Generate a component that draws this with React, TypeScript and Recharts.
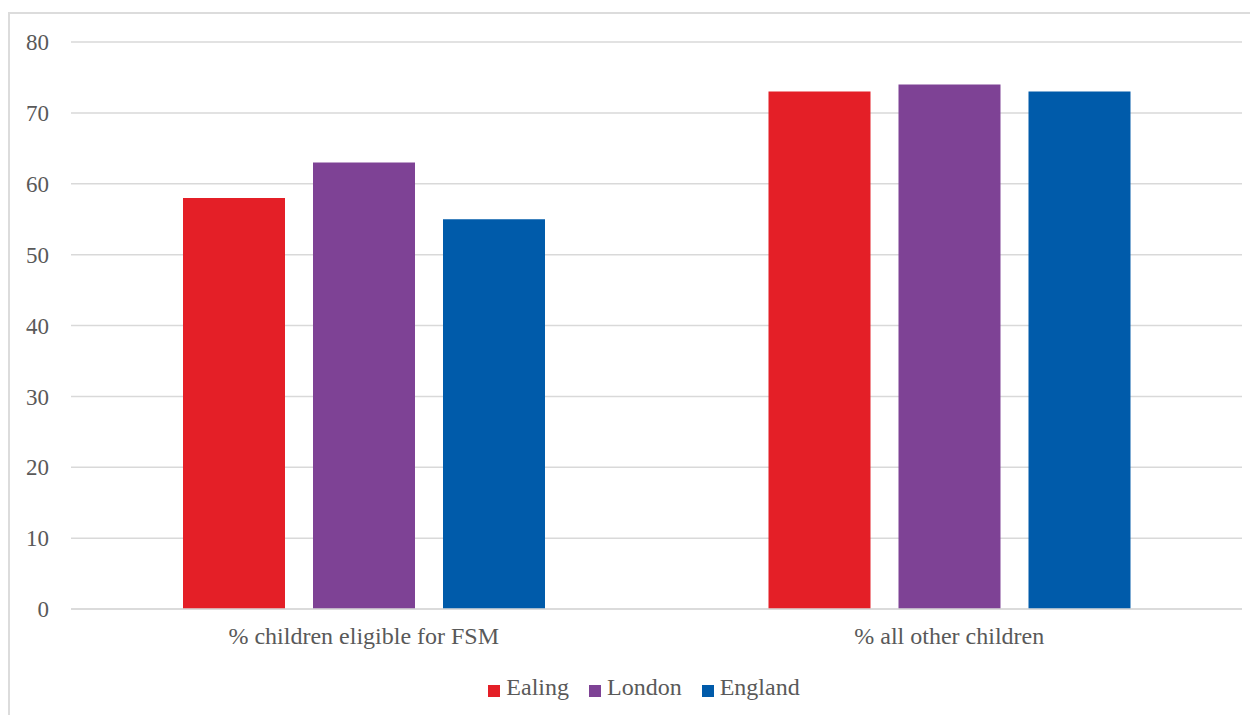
import React from "react";
import { BarChart, Bar, XAxis, YAxis, CartesianGrid, Legend } from "recharts";

const categories = ["% children eligible for FSM", "% all other children"];
const seriesNames = ["Ealing", "London", "England"];
const ealing = [58, 73];
const london = [63, 74];
const england = [55, 73];
const yTicks = [0, 10, 20, 30, 40, 50, 60, 70, 80];

const data = categories.map((c, i) => ({
  name: c,
  Ealing: ealing[i],
  London: london[i],
  England: england[i],
}));

const FONT = "Liberation Serif";
const TXT = "#595959";

export default function App() {
  return (
    <div style={{ position: "relative", width: 1250, height: 707, fontFamily: FONT }}>
      <style>{`.recharts-legend-item{margin-right:20px !important} .recharts-default-legend{transform:translate(29px,-2px)}`}</style>
      <div
        style={{
          position: "absolute",
          left: 4,
          top: -18,
          fontFamily: "Liberation Sans",
          fontWeight: "bold",
          fontSize: 16,
          color: "#E31E24",
          whiteSpace: "nowrap",
          lineHeight: "20px",
        }}
      >
        Figure 1: FSM children achieving the expected KS2 standard
      </div>
      <div
        style={{
          position: "absolute",
          left: 0,
          top: 4,
          width: 1260,
          height: 720,
          border: "2px solid #dcdcdc",
          boxSizing: "border-box",
        }}
      />
      <div style={{ position: "absolute", left: 0, top: 0 }}>
        <BarChart
          width={1250}
          height={707}
          data={data}
          margin={{ top: 34, right: 16, left: 0, bottom: 12 }}
          barCategoryGap={112}
          barGap={28}
        >
          <CartesianGrid vertical={false} stroke="#d9d9d9" strokeWidth={1.5} />
          <XAxis
            dataKey="name"
            tickLine={false}
            tickSize={0}
            tickMargin={18}
            height={67}
            axisLine={{ stroke: "#d9d9d9", strokeWidth: 1.5 }}
            tick={{ fill: TXT, fontSize: 24, fontFamily: FONT }}
          />
          <YAxis
            width={63}
            domain={[0, 80]}
            ticks={yTicks}
            axisLine={false}
            tickLine={false}
            tickSize={0}
            tickMargin={22}
            tick={{ fill: TXT, fontSize: 23, fontFamily: FONT }}
          />
          <Legend
            verticalAlign="bottom"
            align="center"
            iconType="square"
            iconSize={12}
            itemSorter={(item: any) => seriesNames.indexOf(item.value)}
            formatter={(v) => (
              <span style={{ color: TXT, fontSize: 24, fontFamily: FONT, marginLeft: 2 }}>{v}</span>
            )}
          />
          <Bar dataKey="Ealing" fill="#E41F27" isAnimationActive={false} />
          <Bar dataKey="London" fill="#7E4295" isAnimationActive={false} />
          <Bar dataKey="England" fill="#005BAA" isAnimationActive={false} />
        </BarChart>
      </div>
    </div>
  );
}
